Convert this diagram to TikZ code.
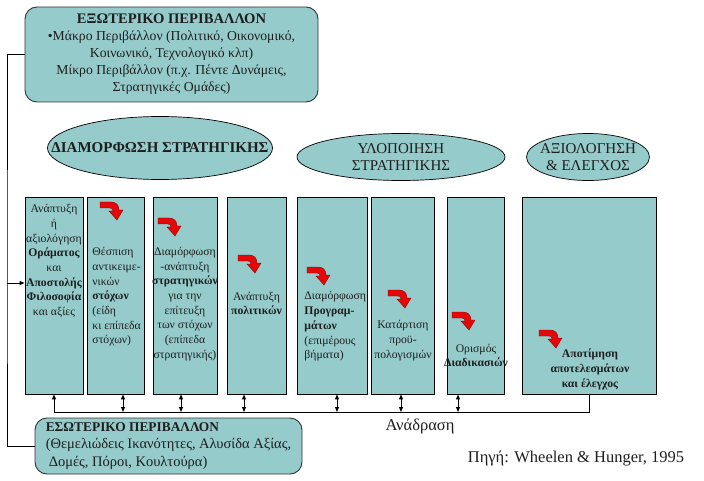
\documentclass[tikz,border=0pt]{standalone}
\usepackage{fontspec}
\setmainfont{Liberation Serif}
\usetikzlibrary{shapes.geometric,arrows.meta}
\definecolor{myteal}{RGB}{150,203,204}
\definecolor{myred}{RGB}{228,8,8}
\definecolor{myink}{RGB}{30,30,30}

\tikzset{
  col/.style={draw=black, fill=myteal, minimum height=197pt, inner sep=0},
  coltext/.style={font=\fontsize{11.7}{14.7}\selectfont, align=center, text=myink, inner sep=0},
  phase/.style={draw=black, fill=myteal, ellipse, inner sep=0, line width=0.7pt},
  phasetext/.style={align=center, text=myink, font=\fontsize{15}{17}\selectfont},
  envbox/.style={draw=black!80, fill=myteal, rounded corners=12pt, text=myink},
  tip/.style={-{Triangle[length=5pt,width=4pt]}},
  turnarrow/.pic={
    \fill[myred, draw=myred!60!black, line width=0.4pt]
      (0,0) -- (11,0) .. controls (16,0) and (19,3) .. (19,8) -- (23,8)
      -- (17,18) -- (9,9) -- (13,9) .. controls (13,7) and (12,6) .. (10,6)
      -- (0,6) -- cycle;
  }
}

\begin{document}
\begin{tikzpicture}[x=1pt, y=-1pt, line width=0.9pt]
  \useasboundingbox (0,0) rectangle (704,481);

  % external and internal environment
  \node[envbox, minimum width=293pt, minimum height=95pt, align=center,
        font=\fontsize{13.7}{17}\selectfont] (ext) at (171.5,54.5)
    {{\fontsize{14.6}{17}\selectfont\bfseries ΕΞΩΤΕΡΙΚΟ ΠΕΡΙΒΑΛΛΟΝ}\\•Μάκρο Περιβάλλον (Πολιτικό, Οικονομικό,\\
     Κοινωνικό, Τεχνολογικό κλπ)\\Μίκρο Περιβάλλον (π.χ. Πέντε Δυνάμεις,\\Στρατηγικές Ομάδες)};
  \node[envbox, minimum width=267pt, minimum height=56pt, align=left,
        font=\fontsize{14.5}{17.5}\selectfont] (int) at (168.5,446)
    {{\fontsize{13.4}{17.5}\selectfont\bfseries ΕΣΩΤΕΡΙΚΟ ΠΕΡΙΒΑΛΛΟΝ}\\(Θεμελιώδεις Ικανότητες, Αλυσίδα Αξίας,\\
     \hspace{3pt}Δομές, Πόροι, Κουλτούρα)};

  % phases
  \node[phase, minimum width=225pt, minimum height=63pt,
        label={[phasetext, font=\fontsize{15}{17}\selectfont\bfseries]center:ΔΙΑΜΟΡΦΩΣΗ ΣΤΡΑΤΗΓΙΚΗΣ}]
    (form) at (160,148) {};
  \node[phase, minimum width=208pt, minimum height=47pt,
        label={[phasetext]center:{ΥΛΟΠΟΙΗΣΗ\\ΣΤΡΑΤΗΓΙΚΗΣ}}] (impl) at (401,157) {};
  \node[phase, minimum width=123pt, minimum height=47pt,
        label={[phasetext]center:{ΑΞΙΟΛΟΓΗΣΗ\\\& ΕΛΕΓΧΟΣ}}] (eval) at (588,157) {};

  % columns
  \foreach \n/\x/\w in {c1/54/58, c2/115.5/57, c3/185/64, c4/256.5/59,
                        c5/332/70, c6/402.5/63, c7/475.5/57, c8/589/134}
    \node[col, minimum width=\w pt] (\n) at (\x,295.5) {};

  \node[coltext] (t1) at (54,261) {Ανάπτυξη\\ή\\αξιολόγηση\\\textbf{Οράματος}\\και\\
    \textbf{Αποστολής}\\\textbf{Φιλοσοφία}\\και αξίες};
  \node[coltext, align=left, anchor=west] (t2) at (92,297)
    {Θέσπιση\\αντικειμε-\\νικών\\\textbf{στόχων}\\(είδη\\κι επίπεδα\\στόχων)};
  \node[coltext] (t3) at (185,304) {Διαμόρφωση\\-ανάπτυξη\\\textbf{στρατηγικών}\\για την\\
    επίτευξη\\των στόχων\\(επίπεδα\\στρατηγικής)};
  \node[coltext] (t4) at (256.5,303.5) {Ανάπτυξη\\\textbf{πολιτικών}};
  \node[coltext, align=left, anchor=west] (t5) at (304,326.5)
    {Διαμόρφωση\\\textbf{Προγραμ-}\\\textbf{μάτων}\\(επιμέρους\\βήματα)};
  \node[coltext] (t6) at (403,340.5) {Κατάρτιση\\προϋ-\\πολογισμών};
  \node[coltext] (t7) at (476,355.5) {Ορισμός\\\textbf{Διαδικασιών}};
  \node[coltext] (t8) at (590,369.5) {\textbf{Αποτίμηση}\\\textbf{αποτελεσμάτων}\\\textbf{και έλεγχος}};

  \foreach \x/\y in {100/202, 158/218, 238/255, 307/267, 388/290, 452/312, 539/330}
    \pic at (\x,\y) {turnarrow};

  % links and feedback
  \coordinate (lane) at (7,283);
  \coordinate (fb) at (0,412);
  \draw (ext.west) -| (lane) |- (int.west);
  \draw[tip] (lane) -- (lane -| c1.west);
  \draw[tip] (c1.south |- fb) -- (c1.south);
  \draw (c1.south |- fb) -- (c8.south |- fb) -- (c8.south);
  \foreach \n/\x in {c2/123, c3/181, c4/244, c5/337, c6/401, c7/458}
    \draw[{Triangle[length=5pt,width=4pt]}-{Triangle[length=5pt,width=4pt]}]
      (fb -| \x,0) -- (\n.south -| \x,0);

  \node[font=\fontsize{16.5}{18}\selectfont, text=myink] (fbl) at (420,426) {Ανάδραση};
  \node[font=\fontsize{16.5}{18}\selectfont, text=myink] (src) at (576,458) {Πηγή: Wheelen \& Hunger, 1995};
\end{tikzpicture}
\end{document}
